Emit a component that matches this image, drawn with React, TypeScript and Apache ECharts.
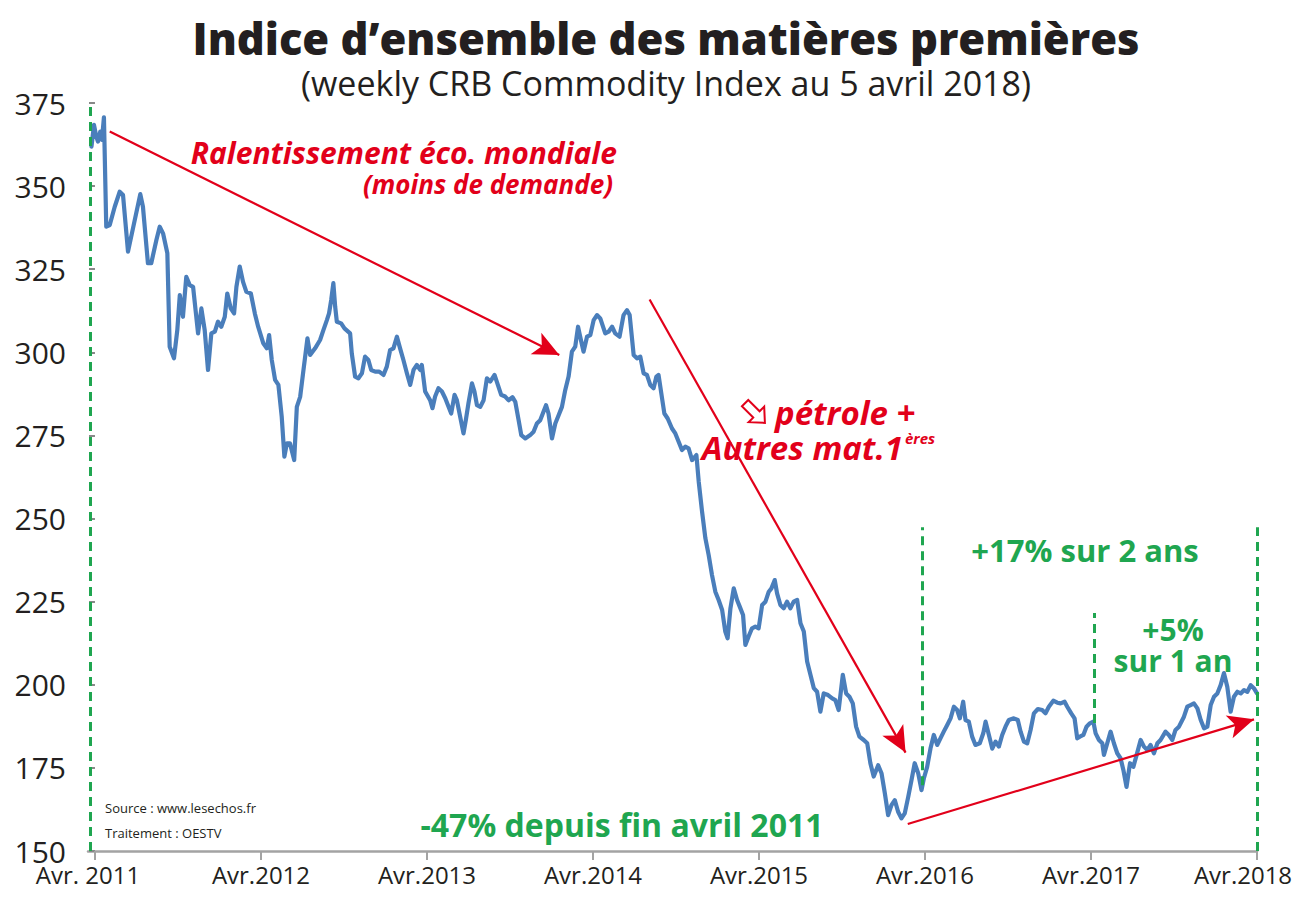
import React, { useEffect, useRef } from "react";
import * as echarts from "echarts";

// x = years since "Avr. 2011" (weekly observations), y = CRB index value
const weeks = [
  -0.021, -0.006, 0.008, 0.018, 0.032, 0.042, 0.054, 0.068, 0.089, 0.119, 0.149, 0.169, 0.199, 0.273, 0.289, 0.319,
  0.339, 0.37, 0.39, 0.41, 0.436, 0.45, 0.476, 0.496, 0.511, 0.53, 0.55, 0.571, 0.591, 0.621, 0.641, 0.661, 0.681,
  0.701, 0.722, 0.741, 0.761, 0.782, 0.797, 0.818, 0.838, 0.852, 0.872, 0.892, 0.912, 0.939, 0.963,
  0.983, 1.014, 1.035, 1.049, 1.065, 1.085, 1.105, 1.125, 1.141, 1.156, 1.175, 1.2, 1.216, 1.236, 1.256, 1.28,
  1.296, 1.326, 1.356, 1.376, 1.397, 1.41, 1.423, 1.436, 1.447, 1.457, 1.483, 1.503, 1.537, 1.547, 1.567, 1.587,
  1.608, 1.627, 1.647, 1.664, 1.688, 1.712, 1.738, 1.758, 1.778, 1.798, 1.819, 1.838, 1.858, 1.879, 1.899, 1.919,
  1.939, 1.959, 1.969, 1.989,
  2.019, 2.033, 2.049, 2.069, 2.09, 2.11, 2.13, 2.146, 2.166, 2.18, 2.2, 2.22, 2.234, 2.25, 2.271, 2.286, 2.301,
  2.321, 2.341, 2.361, 2.381, 2.407, 2.427, 2.447, 2.471, 2.491, 2.515, 2.532, 2.552, 2.568, 2.592, 2.622, 2.642,
  2.662, 2.682, 2.717, 2.732, 2.753, 2.773, 2.793, 2.813, 2.833, 2.853, 2.873, 2.893, 2.91, 2.923, 2.943, 2.964,
  2.984, 3.004, 3.024, 3.044,
  3.074, 3.094, 3.115, 3.134, 3.16, 3.184, 3.205, 3.221, 3.245, 3.265, 3.285, 3.305, 3.325, 3.345, 3.365, 3.382,
  3.395, 3.416, 3.43, 3.45, 3.476, 3.496, 3.516, 3.536, 3.556, 3.576, 3.597, 3.623, 3.637, 3.657, 3.677, 3.697,
  3.717, 3.737, 3.757, 3.778, 3.797, 3.811, 3.828, 3.848, 3.868, 3.884, 3.904, 3.918, 3.938, 3.958, 3.978,
  3.998, 4.019, 4.039, 4.059, 4.075, 4.095, 4.109, 4.129, 4.149, 4.169, 4.189, 4.209, 4.23, 4.25, 4.27, 4.29,
  4.31, 4.33, 4.35, 4.37, 4.39, 4.416, 4.441, 4.46, 4.48, 4.505, 4.525, 4.545, 4.565, 4.585, 4.605, 4.631, 4.652,
  4.671, 4.691, 4.718, 4.738, 4.758, 4.778, 4.798, 4.818, 4.838, 4.858, 4.878, 4.899, 4.919, 4.938, 4.959, 4.979,
  4.993, 5.013, 5.033, 5.053, 5.074, 5.093, 5.113, 5.134, 5.154, 5.174, 5.194, 5.21, 5.23, 5.244, 5.264, 5.284,
  5.304, 5.33, 5.351, 5.365, 5.385, 5.405, 5.425, 5.445, 5.465, 5.485, 5.505, 5.535, 5.559, 5.576, 5.596, 5.616,
  5.636, 5.656, 5.68, 5.706, 5.726, 5.746, 5.773, 5.797, 5.817, 5.841, 5.857, 5.881, 5.901, 5.917, 5.933, 5.954,
  5.973, 5.993, 6.014, 6.028, 6.048, 6.068, 6.078, 6.098, 6.118, 6.138, 6.158, 6.178, 6.195, 6.214, 6.235, 6.255,
  6.275, 6.299, 6.319, 6.339, 6.359, 6.379, 6.4, 6.419, 6.449, 6.469, 6.49, 6.509, 6.53, 6.56, 6.58, 6.6, 6.62,
  6.641, 6.661, 6.681, 6.701, 6.721, 6.741, 6.761, 6.781, 6.801, 6.821, 6.841, 6.861, 6.882, 6.902, 6.922, 6.942,
  6.962, 6.982, 7.0,
];

const crbIndex = [
  361.9, 368.4, 364.9, 363.4, 366.4, 363.9, 370.7, 337.8, 338.3, 343.8, 348.3, 347.3, 330.3, 347.6, 343.8, 326.8,
  326.8, 333.8, 337.8, 335.8, 329.8, 301.7, 298.2, 306.7, 317.2, 310.7, 322.7, 320.2, 319.7, 305.7, 313.2, 306.7, 294.7,
  305.7, 306.2, 309.2, 307.7, 310.7, 317.7, 313.2, 311.7, 319.7, 325.8, 321.2, 318.2, 317.7, 311.7,
  307.7, 302.7, 301.2, 305.2, 297.7, 291.7, 290.2, 280.6, 268.6, 272.6, 272.6, 267.6, 283.6, 286.6, 294.7, 304.2,
  299.2, 301.2, 303.7, 306.7, 309.7, 311.7, 315.7, 320.8, 313.7, 309.2, 308.7, 307.2, 305.7, 299.7, 292.7, 292.2,
  293.7, 298.7, 297.7, 294.7, 294.2, 294.2, 293.2, 295.7, 300.7, 301.2, 304.7, 301.2, 297.7, 293.7, 290.2, 294.7,
  296.2, 294.7, 296.2, 288.2,
  285.6, 283.2, 286.7, 289.2, 288.2, 286.2, 283.6, 281.6, 287.2, 285.6, 280.6, 275.6, 279.6, 284.7, 290.7, 288.2, 284.1,
  283.6, 285.6, 292.2, 291.2, 293.2, 290.2, 287.2, 286.7, 285.6, 286.5, 285.1, 279.6, 275.1, 274.1, 275.1, 276.1,
  278.6, 279.6, 284.1, 281.6, 274.1, 278.6, 281.1, 283.6, 288.7, 292.7, 300.2, 301.7, 307.7, 304.7, 300.2, 304.7,
  305.2, 309.7, 311.2, 310.2,
  305.7, 306.2, 307.7, 305.7, 304.7, 311.2, 312.7, 311.2, 299.2, 298.2, 298.7, 293.7, 293.2, 290.2, 289.2, 292.7,
  293.2, 286.2, 281.6, 280.1, 277.1, 275.6, 273.1, 270.6, 271.6, 271.1, 267.6, 269.1, 261.1, 252.1, 244.1, 239.0,
  233.0, 228.0, 225.5, 222.5, 216.0, 214.0, 223.0, 229.0, 225.5, 223.5, 221.0, 212.0, 214.6, 217.0, 217.5,
  217.0, 224.0, 225.0, 228.0, 229.0, 231.5, 227.5, 224.0, 223.0, 225.0, 223.0, 225.0, 225.5, 218.5, 216.0, 207.0,
  203.0, 199.0, 197.9, 191.9, 197.4, 196.9, 195.9, 195.4, 192.4, 203.0, 197.4, 196.4, 194.4, 187.4, 184.4, 183.4, 182.4,
  176.4, 172.4, 175.8, 173.4, 167.4, 160.8, 163.8, 165.3, 161.8, 159.8, 161.3, 166.3, 171.4, 176.4, 173.4, 168.3,
  171.8, 175.3, 180.8, 184.9, 181.9, 183.9, 185.9, 187.9, 189.9, 193.4, 192.4, 189.9, 194.9, 189.4, 188.9, 184.4,
  181.9, 182.4, 185.4, 188.9, 184.9, 180.8, 182.9, 181.4, 184.9, 187.4, 189.4, 189.9, 189.4, 185.9, 182.9, 182.4,
  186.4, 191.4, 192.7, 192.4, 191.4, 193.4, 195.2, 194.6, 194.4, 194.9, 193.4, 191.4, 189.9, 183.9, 184.4, 184.9,
  187.4, 188.4, 188.9, 185.4, 183.4, 182.4, 178.9, 182.4, 185.9, 182.4, 179.4, 177.9, 174.4, 169.3, 176.4, 175.3,
  178.9, 183.4, 181.4, 180.4, 181.9, 179.4, 182.4, 183.4, 185.9, 184.9, 183.4, 186.4, 187.4, 190.4, 193.4, 193.9, 194.4,
  192.9, 189.4, 186.9, 187.4, 193.9, 196.4, 197.4, 199.9, 203.5, 199.4, 191.9, 196.4, 197.9, 197.4, 198.4, 197.9,
  199.9, 198.9, 197.4,
];

const xTickValues = [0, 1, 2, 3, 4, 5, 6, 7];
const xTickLabels = ["Avr. 2011", "Avr.2012", "Avr.2013", "Avr.2014", "Avr.2015", "Avr.2016", "Avr.2017", "Avr.2018"];

// red trend arrows: [fromYear, fromValue, toYear, toValue]
const trendArrows = [
  [0.089, 366.4, 2.797, 299.2],
  [3.341, 315.9, 4.883, 179.6],
  [4.896, 158.1, 6.982, 189.6],
];

// green dashed reference lines: [year, fromValue, toValue]
const refLines = [
  [-0.03, 150, 375],
  [4.985, 169.8, 247.4],
  [6.02, 188.5, 221.6],
  [7.0, 150, 247.4],
];

const RED = "#e2001a";
const GREEN = "#1fa650";
const BLUE = "#4a7ebb";
const DARK = "#231f20";
const SANS = "'Open Sans', 'Noto Sans', sans-serif";

export default function App() {
  const ref = useRef<HTMLDivElement>(null);

  useEffect(() => {
    if (!ref.current) return;
    const chart = echarts.init(ref.current, undefined, { renderer: "svg" });
    const seriesData = weeks.map((w, i) => [w, crbIndex[i]]);

    const text = (t: string, x: number, y: number, o: any = {}) => ({
      type: "text",
      x,
      y,
      silent: true,
      style: {
        text: t,
        fill: o.fill || DARK,
        fontFamily: SANS,
        fontSize: o.fontSize || 20,
        fontWeight: o.fontWeight || "normal",
        fontStyle: o.fontStyle || "normal",
        lineHeight: o.lineHeight,
        textAlign: o.align || "left",
        textVerticalAlign: "middle",
      },
    });

    const redItalic = { fill: RED, fontWeight: "bold", fontStyle: "italic" };
    const labelRich = {
      first: { fontFamily: SANS, fontSize: 24, color: DARK, padding: [0, 14, 0, 0], lineHeight: 26 },
      last: { fontFamily: SANS, fontSize: 24, color: DARK, padding: [0, 28, 0, 0], lineHeight: 26 },
      mid: { fontFamily: SANS, fontSize: 24, color: DARK, lineHeight: 26 },
    };

    chart.setOption({
      animation: false,
      backgroundColor: "#ffffff",
      grid: { left: 88, right: 35, top: 103, bottom: 61, containLabel: false, outerBoundsMode: "none" },
      xAxis: {
        type: "value",
        min: -0.042,
        max: 7,
        splitLine: { show: false },
        axisLine: { show: true, onZero: false, lineStyle: { color: "#a3a3a3", width: 2.5 } },
        axisTick: { show: true, length: 9, customValues: xTickValues, lineStyle: { color: "#a3a3a3", width: 2 } },
        axisLabel: {
          customValues: xTickValues,
          margin: 10,
          color: DARK,
          fontFamily: SANS,
          fontSize: 24,
          lineHeight: 26,
          rich: labelRich,
          formatter: (v: number) => {
            const i = Math.round(v);
            const key = i === 0 ? "first" : i === xTickLabels.length - 1 ? "last" : "mid";
            return `{${key}|${xTickLabels[i] ?? ""}}`;
          },
        },
      },
      yAxis: {
        type: "value",
        min: 150,
        max: 375,
        interval: 25,
        splitLine: { show: false },
        axisLine: { show: false },
        axisTick: { show: true, length: 6, lineStyle: { color: "#888", width: 2 } },
        axisLabel: { margin: 22, color: DARK, fontFamily: SANS, fontSize: 30, lineHeight: 20 },
      },
      series: [
        {
          type: "line",
          data: seriesData,
          showSymbol: false,
          symbol: "none",
          silent: true,
          lineStyle: { color: BLUE, width: 4.2, join: "round", cap: "round" },
          z: 3,
        },
        {
          type: "line",
          data: [],
          silent: true,
          z: 2,
          markLine: {
            silent: true,
            symbol: ["none", "none"],
            label: { show: false },
            lineStyle: { color: GREEN, width: 3, type: [9, 6] },
            emphasis: { disabled: true },
            data: refLines.map((r) => [{ coord: [r[0], r[1]] }, { coord: [r[0], r[2]] }]),
          },
        },
        {
          type: "line",
          data: [],
          silent: true,
          z: 4,
          markLine: {
            silent: true,
            symbol: ["none", "arrow"],
            symbolSize: [18, 26],
            label: { show: false },
            lineStyle: { color: RED, width: 2.2, type: "solid" },
            itemStyle: { color: RED },
            emphasis: { disabled: true },
            data: trendArrows.map((a) => [{ coord: [a[0], a[1]] }, { coord: [a[2], a[3]] }]),
          },
        },
      ],
      graphic: [
        text("Indice d\u2019ensemble des mati\u00e8res premi\u00e8res", 666, 38, { fontSize: 43.5, fontWeight: 800, align: "center", lineHeight: 44 }),
        text("(weekly CRB Commodity Index au 5 avril 2018)", 666, 83, { fontSize: 34, align: "center", lineHeight: 34 }),
        text("Ralentissement \u00e9co. mondiale", 617, 152, { ...redItalic, fontSize: 30, align: "right", lineHeight: 30 }),
        text("(moins de demande)", 613, 184, { ...redItalic, fontSize: 26, align: "right", lineHeight: 26 }),
        {
          type: "polygon",
          x: 755,
          y: 413,
          rotation: -Math.PI / 4,
          silent: true,
          shape: { points: [[-14, -4.5], [2, -4.5], [2, -11], [14, 0], [2, 11], [2, 4.5], [-14, 4.5]] },
          style: { fill: "#ffffff", stroke: RED, lineWidth: 2 },
        },
        text("p\u00e9trole +", 775, 412, { ...redItalic, fontSize: 33, lineHeight: 33 }),
        text("Autres mat.1", 903, 447, { ...redItalic, fontSize: 33, align: "right", lineHeight: 33 }),
        text("\u00e8res", 905, 438, { ...redItalic, fontSize: 15, lineHeight: 14 }),
        text("+17% sur 2 ans", 1085, 550, { fill: GREEN, fontWeight: "bold", fontSize: 31, align: "center", lineHeight: 31 }),
        text("+5%", 1173, 629, { fill: GREEN, fontWeight: "bold", fontSize: 30, align: "center", lineHeight: 30 }),
        text("sur 1 an", 1173, 660, { fill: GREEN, fontWeight: "bold", fontSize: 30, align: "center", lineHeight: 30 }),
        text("-47% depuis fin avril 2011", 622, 824, { fill: GREEN, fontWeight: "bold", fontSize: 32, align: "center", lineHeight: 32 }),
        text("Source : www.lesechos.fr", 105, 808, { fontSize: 13, lineHeight: 16 }),
        text("Traitement : OESTV", 105, 833, { fontSize: 13, lineHeight: 16 }),
      ],
    });

    return () => chart.dispose();
  }, []);

  return <div ref={ref} style={{ position: "absolute", left: 0, top: 0, width: 1292, height: 912 }} />;
}
